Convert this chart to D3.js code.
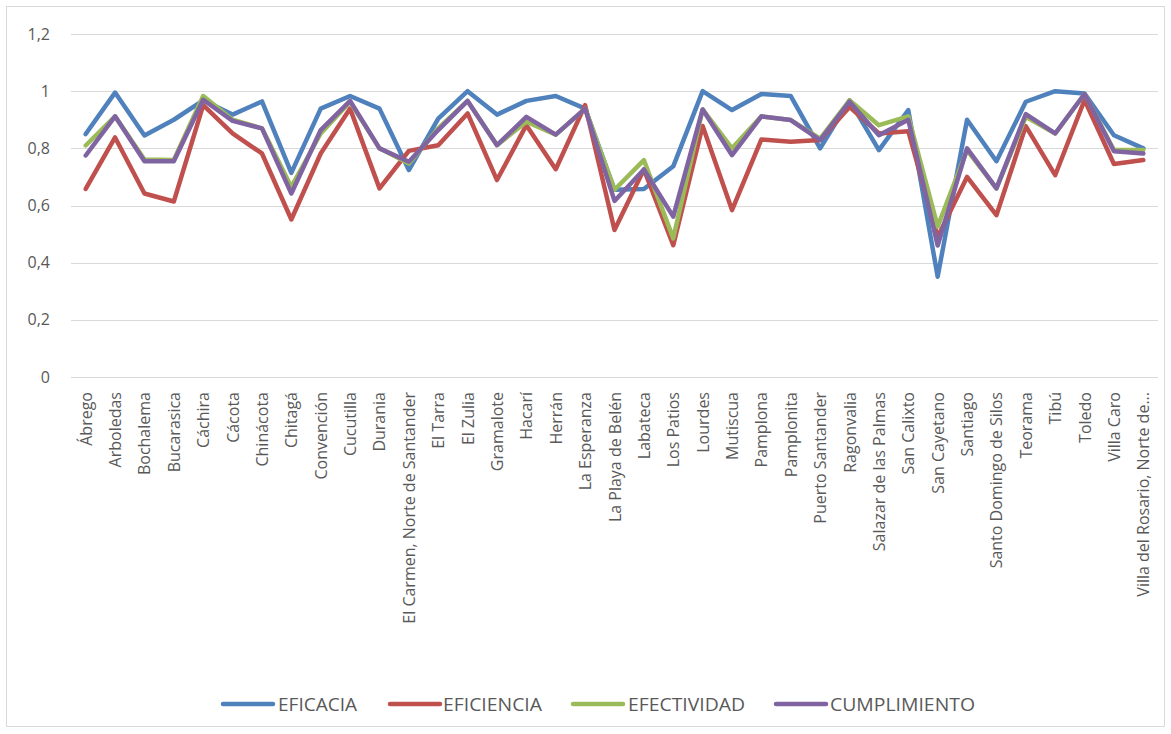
<!DOCTYPE html>
<html>
<head>
<meta charset="utf-8">
<script src="https://cdn.jsdelivr.net/npm/d3@7"></script>
<style>
  html, body { margin: 0; padding: 0; background: #fff; }
  svg { display: block; }
</style>
</head>
<body>
<svg id="chart" width="1171" height="734"></svg>
<script>
// Municipios de Norte de Santander
const municipios = [
  "Ábrego", "Arboledas", "Bochalema", "Bucarasica", "Cáchira", "Cácota",
  "Chinácota", "Chitagá", "Convención", "Cucutilla", "Durania",
  "El Carmen, Norte de Santander", "El Tarra", "El Zulia", "Gramalote",
  "Hacarí", "Herrán", "La Esperanza", "La Playa de Belén", "Labateca",
  "Los Patios", "Lourdes", "Mutiscua", "Pamplona", "Pamplonita",
  "Puerto Santander", "Ragonvalia", "Salazar de las Palmas", "San Calixto",
  "San Cayetano", "Santiago", "Santo Domingo de Silos", "Teorama", "Tibú",
  "Toledo", "Villa Caro", "Villa del Rosario, Norte de Santander"
];

const eficacia = [0.85, 0.995, 0.845, 0.90, 0.968, 0.918, 0.964, 0.714, 0.939, 0.983,
  0.939, 0.724, 0.904, 1.0, 0.918, 0.966, 0.983, 0.939, 0.655, 0.658,
  0.737, 1.0, 0.934, 0.99, 0.983, 0.80, 0.968, 0.794, 0.934, 0.351,
  0.90, 0.755, 0.963, 1.0, 0.992, 0.846, 0.80];

const eficiencia = [0.658, 0.838, 0.642, 0.614, 0.951, 0.852, 0.782, 0.551, 0.782, 0.939,
  0.66, 0.791, 0.811, 0.922, 0.689, 0.881, 0.727, 0.951, 0.514, 0.726,
  0.461, 0.878, 0.584, 0.831, 0.823, 0.829, 0.945, 0.852, 0.86, 0.49,
  0.70, 0.566, 0.878, 0.706, 0.969, 0.745, 0.759];

const efectividad = [0.81, 0.912, 0.761, 0.759, 0.983, 0.90, 0.87, 0.665, 0.852, 0.963,
  0.80, 0.747, 0.87, 0.966, 0.811, 0.893, 0.848, 0.939, 0.655, 0.759,
  0.485, 0.936, 0.80, 0.912, 0.899, 0.834, 0.968, 0.881, 0.912, 0.526,
  0.794, 0.66, 0.91, 0.852, 0.99, 0.794, 0.794];

const cumplimiento = [0.775, 0.912, 0.755, 0.755, 0.97, 0.896, 0.87, 0.642, 0.864, 0.966,
  0.80, 0.753, 0.864, 0.966, 0.811, 0.91, 0.848, 0.939, 0.616, 0.726,
  0.561, 0.936, 0.776, 0.912, 0.899, 0.829, 0.963, 0.846, 0.90, 0.46,
  0.80, 0.66, 0.92, 0.852, 0.99, 0.79, 0.782];

const yTicks = [0, 0.2, 0.4, 0.6, 0.8, 1, 1.2];

const seriesNames = ["EFICACIA", "EFICIENCIA", "EFECTIVIDAD", "CUMPLIMIENTO"];
const seriesColors = ["#4F81BD", "#C0504D", "#9BBB59", "#8064A2"];
const seriesValues = [eficacia, eficiencia, efectividad, cumplimiento];

const svg = d3.select("#chart");
const W = 1171, H = 734;
const plot = { left: 71, right: 1158, top: 34, bottom: 377 };

// outer chart frame
svg.append("rect")
  .attr("x", 6.5).attr("y", 6.5)
  .attr("width", W - 13).attr("height", H - 14)
  .attr("fill", "#fff").attr("stroke", "#d9d9d9").attr("stroke-width", 1);

const x = d3.scaleBand()
  .domain(municipios)
  .range([plot.left, plot.right]);

const y = d3.scaleLinear()
  .domain([0, 1.2])
  .range([plot.bottom, plot.top]);

const fmt = v => d3.format(".1~f")(v).replace(".", ",");

// horizontal gridlines
svg.append("g")
  .selectAll("line")
  .data(yTicks)
  .join("line")
  .attr("x1", plot.left).attr("x2", plot.right)
  .attr("y1", d => Math.round(y(d)) + 0.5).attr("y2", d => Math.round(y(d)) + 0.5)
  .attr("stroke", "#d9d9d9").attr("stroke-width", 1);

// value axis labels
const yAxis = d3.axisLeft(y).tickValues(yTicks).tickFormat(fmt).tickSize(0).tickPadding(21);
svg.append("g")
  .attr("transform", `translate(${plot.left},0)`)
  .call(yAxis)
  .call(g => g.select(".domain").remove())
  .call(g => g.selectAll("text")
    .attr("font-family", "'Open Sans', sans-serif")
    .attr("font-size", 16)
    .attr("fill", "#595959"));

// category axis labels (rotated)
const shortName = s => s.length > 30 ? s.slice(0, 27) + "..." : s;
const xAxis = d3.axisBottom(x).tickSize(0).tickFormat(shortName);
svg.append("g")
  .attr("transform", `translate(0,${plot.bottom})`)
  .call(xAxis)
  .call(g => g.select(".domain").remove())
  .call(g => g.selectAll("text")
    .attr("font-family", "'Open Sans', sans-serif")
    .attr("font-size", 16)
    .attr("fill", "#595959")
    .attr("text-anchor", "end")
    .attr("dy", null)
    .attr("dominant-baseline", "central")
    .attr("transform", "translate(0,15) rotate(-90)")
    .attr("x", 0).attr("y", 0));

// series lines
const line = d3.line()
  .x((d, i) => x(municipios[i]) + x.bandwidth() / 2)
  .y(d => y(d));

svg.append("g")
  .selectAll("path")
  .data(seriesValues)
  .join("path")
  .attr("d", d => line(d))
  .attr("fill", "none")
  .attr("stroke", (d, i) => seriesColors[i])
  .attr("stroke-width", 4.5)
  .attr("stroke-linejoin", "round")
  .attr("stroke-linecap", "round");

// legend
const legendItems = [
  { lx: 223, tx: 278, tw: 79 },
  { lx: 390, tx: 443, tw: 99 },
  { lx: 573, tx: 628, tw: 117 },
  { lx: 776, tx: 830, tw: 145 }
];
const legend = svg.append("g").attr("transform", "translate(0,704)");
legendItems.forEach((it, i) => {
  legend.append("line")
    .attr("x1", it.lx).attr("x2", it.lx + 50)
    .attr("y1", 0).attr("y2", 0)
    .attr("stroke", seriesColors[i]).attr("stroke-width", 4.5)
    .attr("stroke-linecap", "round");
  legend.append("text")
    .attr("x", it.tx).attr("y", 0)
    .attr("dominant-baseline", "central")
    .attr("font-family", "'Open Sans', sans-serif")
    .attr("font-size", 18)
    .attr("fill", "#595959")
    .attr("textLength", it.tw)
    .attr("lengthAdjust", "spacingAndGlyphs")
    .text(seriesNames[i]);
});
</script>
</body>
</html>
